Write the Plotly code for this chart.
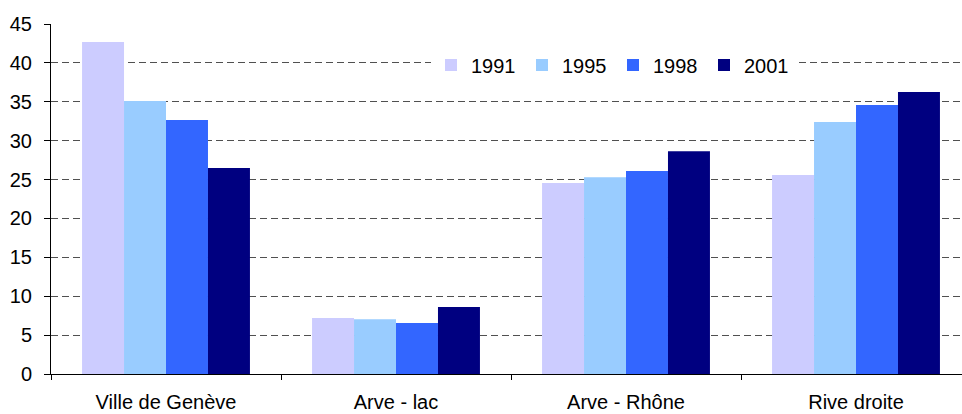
import plotly.graph_objects as go

categories = ["Ville de Genève", "Arve - lac", "Arve - Rhône", "Rive droite"]
years = ["1991", "1995", "1998", "2001"]
v1991 = [42.7, 7.2, 24.55, 25.6]
v1995 = [35.1, 7.05, 25.3, 32.4]
v1998 = [32.65, 6.55, 26.1, 34.6]
v2001 = [26.5, 8.6, 28.65, 36.25]
y_ticks = [0, 5, 10, 15, 20, 25, 30, 35, 40, 45]

series = [v1991, v1995, v1998, v2001]
colors = ["#CCCCFF", "#99CCFF", "#3366FF", "#000080"]

FONT = "Liberation Sans, Arial, sans-serif"
FS = 20

fig = go.Figure()
for name, vals, col in zip(years, series, colors):
    fig.add_trace(go.Bar(
        x=categories, y=vals, name=name,
        marker=dict(color=col, line=dict(width=0)),
    ))

W, H = 962, 414
ml, mr, mt, mb = 51, 0, 24, 40

fig.update_layout(
    width=W, height=H,
    margin=dict(l=ml, r=mr, t=mt, b=mb, pad=0, autoexpand=False),
    paper_bgcolor="white", plot_bgcolor="white",
    barmode="group", bargap=0.27, bargroupgap=0,
    font=dict(family=FONT, size=FS, color="black"),
    showlegend=True,
    legend=dict(
        orientation="h",
        x=(431 - ml) / (W - ml - mr), xanchor="left",
        y=(374 - 65) / 350, yanchor="middle",
        bgcolor="white", borderwidth=0,
        font=dict(family=FONT, size=FS, color="black"),
        entrywidth=46, entrywidthmode="pixels",
        itemclick=False,
    ),
    xaxis=dict(
        type="category",
        range=[-0.5, 3.5 - 9 / 230],
        automargin=False,
        showline=True, linecolor="black", linewidth=1,
        ticks="outside", ticklen=5, tickcolor="black", tickwidth=1,
        tickson="boundaries",
        showgrid=False, zeroline=False,
        tickfont=dict(family=FONT, size=FS, color="black"),
        ticklabelstandoff=10,
    ),
    yaxis=dict(
        range=[0, 45],
        automargin=False,
        tickvals=y_ticks,
        showline=True, linecolor="black", linewidth=1,
        ticks="outside", ticklen=6, tickcolor="black", tickwidth=1,
        showgrid=True, gridcolor="#505050", gridwidth=1, griddash="7px,4px",
        zeroline=False,
        tickfont=dict(family=FONT, size=FS, color="black"),
        ticklabelstandoff=8,
    ),
)

fig.write_html(
    "out.html",
    config={"displayModeBar": False},
    post_script="document.body.style.margin='0';document.body.style.overflow='hidden';",
)
